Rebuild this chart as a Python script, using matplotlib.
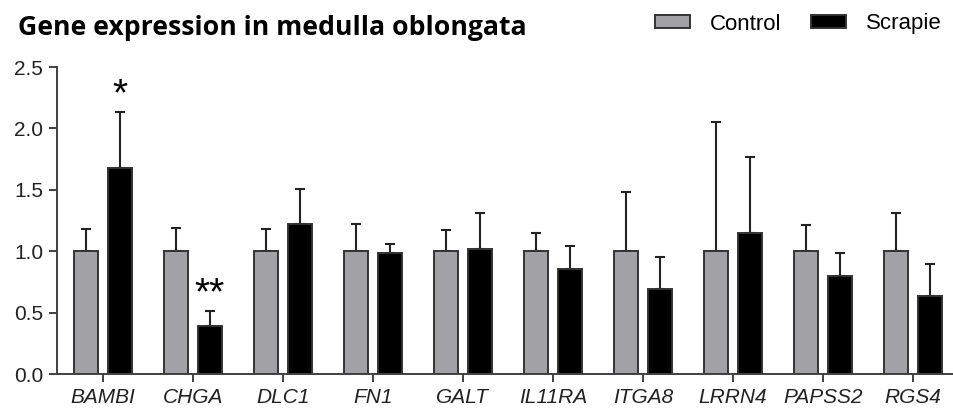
import numpy as np
import matplotlib.pyplot as plt

# relative expression, medulla oblongata
genes = ["BAMBI", "CHGA", "DLC1", "FN1", "GALT", "IL11RA", "ITGA8", "LRRN4", "PAPSS2", "RGS4"]
control = [1.0, 1.0, 1.0, 1.0, 1.0, 1.0, 1.0, 1.0, 1.0, 1.0]
control_err = [0.185, 0.19, 0.185, 0.225, 0.17, 0.15, 0.485, 1.05, 0.21, 0.315]
scrapie = [1.675, 0.39, 1.225, 0.985, 1.015, 0.855, 0.695, 1.145, 0.795, 0.635]
scrapie_err = [0.455, 0.12, 0.28, 0.07, 0.295, 0.19, 0.26, 0.62, 0.19, 0.26]
stars = {0: "*", 1: "**"}

fig = plt.figure(figsize=(9.54, 4.12), dpi=100)
ax = fig.add_axes([0.0597, 0.0922, 0.9403, 0.7451])

x = np.arange(len(genes))
off = 0.19
w = 0.26
edge = "#333333"
ax.bar(x - off, control, w, color="#a2a1a6", edgecolor=edge, linewidth=1.4,
       label="Control", zorder=2)
ax.bar(x + off, scrapie, w, color="black", edgecolor=edge, linewidth=1.4,
       label="Scrapie", zorder=2)
ax.errorbar(x - off, control, yerr=[np.zeros(len(x)), control_err], fmt="none",
            ecolor="#222222", elinewidth=1.5, capsize=3.8, capthick=1.5, zorder=1)
ax.errorbar(x + off, scrapie, yerr=[np.zeros(len(x)), scrapie_err], fmt="none",
            ecolor="#222222", elinewidth=1.5, capsize=3.8, capthick=1.5, zorder=1)

for i, s in stars.items():
    top = scrapie[i] + scrapie_err[i]
    ax.text(i + off, top + 0.06, s, ha="center", va="baseline", fontsize=28,
            family="Liberation Sans")

ax.set_xlim(-0.511, 9.456)
ax.set_ylim(0, 2.5)
ax.set_yticks([0.0, 0.5, 1.0, 1.5, 2.0, 2.5])
ax.set_yticklabels(["0.0", "0.5", "1.0", "1.5", "2.0", "2.5"], family="Liberation Sans",
                   fontsize=15, color="#222222")
ax.set_xticks(x)
ax.set_xticklabels(genes, family="Liberation Sans", style="italic", fontsize=15,
                   color="#222222")
for s in ["top", "right"]:
    ax.spines[s].set_visible(False)
for s in ["left", "bottom"]:
    ax.spines[s].set_linewidth(1.4)
    ax.spines[s].set_color("#404040")
ax.tick_params(direction="out", length=6, width=1.4, color="#404040", pad=4)

fig.text(0.019, 0.916, "Gene expression in medulla oblongata", fontsize=19.2,
         fontweight="bold", family="Open Sans", va="baseline")
fig.legend(loc="center left", bbox_to_anchor=(655 / 954, 1 - 24 / 412), ncol=2,
           frameon=False, prop={"family": "Liberation Sans", "size": 16},
           handlelength=1.58, handleheight=0.54, columnspacing=1.3,
           handletextpad=0.9, borderpad=0, borderaxespad=0)

fig.savefig("out.png", dpi=100)
